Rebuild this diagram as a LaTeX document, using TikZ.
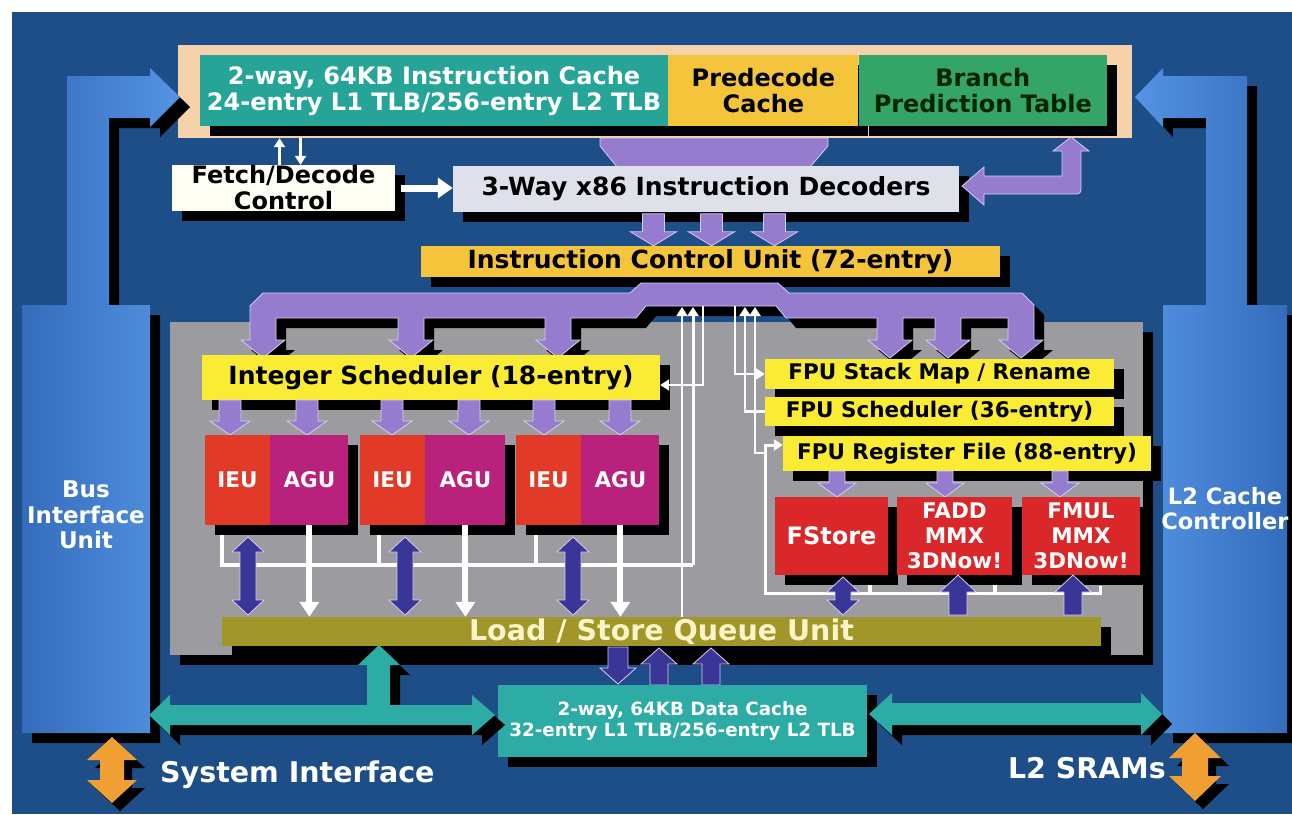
\documentclass[tikz,border=0pt]{standalone}
\usepackage{fontspec}
\setmainfont{DejaVu Sans}
\usetikzlibrary{arrows.meta,shadows}

\definecolor{chipblue}{RGB}{30,78,135}
\definecolor{colblueD}{RGB}{52,108,188}
\definecolor{colblueL}{RGB}{84,148,226}
\definecolor{peach}{RGB}{246,210,170}
\definecolor{icteal}{RGB}{38,164,152}
\definecolor{gold}{RGB}{244,196,58}
\definecolor{bptgreen}{RGB}{52,164,104}
\definecolor{declight}{RGB}{222,224,234}
\definecolor{lilac}{RGB}{150,124,206}
\definecolor{lilacedge}{RGB}{214,204,240}
\definecolor{lemon}{RGB}{250,236,52}
\definecolor{panelgray}{RGB}{156,156,160}
\definecolor{ieured}{RGB}{226,58,40}
\definecolor{agumag}{RGB}{184,34,124}
\definecolor{fpured}{RGB}{218,40,42}
\definecolor{olive}{RGB}{160,150,42}
\definecolor{lsqtext}{RGB}{250,244,200}
\definecolor{indigo}{RGB}{58,54,152}
\definecolor{busteal}{RGB}{44,172,164}
\definecolor{pinorange}{RGB}{240,160,50}

\begin{document}
\begin{tikzpicture}[x=1pt,y=-1pt,
    every node/.style={inner sep=0pt,align=center},
    shadowed/.style={drop shadow={shadow xshift=10pt,shadow yshift=-10pt,opacity=1,fill=black}},
    block/.style={rectangle,shadowed},
    f18/.style={font=\bfseries\fontsize{18.3}{21}\selectfont},
    f21/.style={font=\bfseries\fontsize{21.5}{25}\selectfont},
    f23/.style={font=\bfseries\fontsize{23}{25.5}\selectfont},
    f24/.style={font=\bfseries\fontsize{24}{26}\selectfont},
    f25/.style={font=\bfseries\fontsize{25}{26}\selectfont},
    f28/.style={font=\bfseries\fontsize{28.5}{30}\selectfont},
    lilac arrow/.style={fill=lilac,draw=lilacedge,line width=0.8pt},
    indigo arrow/.style={fill=indigo,draw=lilacedge,line width=0.8pt},
    teal arrow/.style={fill=busteal,shadowed},
    pin arrow/.style={fill=pinorange,drop shadow={shadow xshift=8pt,shadow yshift=-8pt,opacity=1,fill=black}},
    wire/.style={draw=white,line width=2.2pt,-{Triangle[width=11pt,length=9pt]}},
    mid wire/.style={draw=white,line width=7pt,-{Triangle[width=20pt,length=15pt]}},
    fat wire/.style={draw=white,line width=6pt,-{Triangle[width=19pt,length=15pt]}},
    bus line/.style={draw=white,line width=3.5pt}
  ]
  \useasboundingbox (0,0) rectangle (1292,814);
  \fill[chipblue] (12,12) rectangle (1292,814);

  % fetch strip
  \node[fill=peach,minimum width=954pt,minimum height=93pt] (ibox) at (655,91.5) {};
  \node[block,fill=icteal,text=white,f24,minimum width=468pt,minimum height=71pt] (icache) at (434,90.5)
    {2-way, 64KB Instruction Cache\\24-entry L1 TLB/256-entry L2 TLB};
  \node[block,fill=gold,f24,minimum width=190pt,minimum height=71pt,anchor=west] (predec) at (icache.east) {Predecode\\Cache};
  \node[block,fill=bptgreen,text=black!85!green,f24,minimum width=248pt,minimum height=71pt,anchor=west] (bpt) at (predec.east) {Branch\\Prediction Table};

  % bus interface and L2 controller
  \path[shadowed,left color=colblueD,right color=colblueL]
    (22,305) -- (67,305) -- (67,76) -- (150,76) -- (150,68) -- (180,97) -- (150,127) -- (150,118)
    -- (109,118) -- (109,305) -- (150,305) -- (150,733) -- (22,733) -- cycle;
  \path[shadowed,left color=colblueL,right color=colblueD]
    (1163,733) -- (1163,305) -- (1206,305) -- (1206,118) -- (1163,118) -- (1163,127) -- (1135,97)
    -- (1163,68) -- (1163,76) -- (1247,76) -- (1247,305) -- (1287,305) -- (1287,733) -- cycle;
  \node[f23,text=white] (biu) at (86,515) {Bus\\Interface\\Unit};
  \node[font=\bfseries\fontsize{22.5}{25}\selectfont,text=white] (l2cc) at (1225,509) {L2 Cache\\Controller};

  % decode
  \filldraw[lilac arrow] (600,138) -- (828,138) -- (828,146) -- (810,167) -- (617,167) -- (600,146) -- cycle;
  \node[block,fill=white!96!yellow,f24,minimum width=223pt,minimum height=46pt] (fetch) at (283.5,188) {Fetch/Decode\\Control};
  \node[block,fill=declight,f25,minimum width=506pt,minimum height=46pt] (dec) at (706,189) {3-Way x86 Instruction Decoders};
  \draw[wire] ([xshift=-4pt]fetch.north) -- ([xshift=-4pt]fetch.north |- ibox.south);
  \draw[wire] ([xshift=17pt]fetch.north |- ibox.south) -- ([xshift=17pt]fetch.north);
  \draw[mid wire] ([xshift=6pt]fetch.east) -- (fetch.east -| dec.west);
  \filldraw[lilac arrow] (962,186) -- (984,167) -- (984,176) -- (1062,176) -- (1062,151) -- (1053,151) -- (1071,137)
    -- (1089,151) -- (1081,151) -- (1081,185) .. controls (1081,194) .. (1072,194) -- (984,194) -- (984,205) -- cycle;

  % execution core panel
  \fill[panelgray,shadowed] (170,322) rectangle (1143,655);

  \node[block,fill=gold,f25,minimum width=579pt,minimum height=31pt] (icu) at (710.5,261.5) {Instruction Control Unit (72-entry)};
  \foreach \dx in {-57,1,64}
    \filldraw[lilac arrow] ([xshift=\dx pt]icu.north) -- ++(-23,-14) -- ++(12,0) -- ++(0,-18) -- ++(22,0) -- ++(0,18) -- ++(12,0) -- cycle;

  % dispatch bus
  \filldraw[lilac arrow,shadowed]
    (250,340) -- (250,306) -- (263,293) -- (630,293) -- (641,283) -- (778,283) -- (789,293)
    -- (1022,293) -- (1034,305) -- (1034,340) -- (1043,340) -- (1021,358) -- (999,340) -- (1008,340) -- (1008,318)
    -- (961,318) -- (961,340) -- (970,340) -- (948,358) -- (926,340) -- (935,340) -- (935,318)
    -- (903,318) -- (903,340) -- (912,340) -- (890,358) -- (868,340) -- (877,340) -- (877,318)
    -- (786,318) -- (776,306) -- (646,306) -- (636,318)
    -- (571,318) -- (571,340) -- (580,340) -- (558,358) -- (536,340) -- (545,340) -- (545,318)
    -- (424,318) -- (424,340) -- (433,340) -- (411,358) -- (389,340) -- (398,340) -- (398,318)
    -- (276,318) -- (276,340) -- (285,340) -- (263,358) -- (241,340) -- cycle;

  % schedulers
  \node[block,fill=lemon,f25,minimum width=458pt,minimum height=45pt] (sched) at (431,377.5) {Integer Scheduler (18-entry)};
  \node[block,fill=lemon,f21,minimum width=349pt,minimum height=30pt] (fstack) at (939.5,374) {FPU Stack Map / Rename};
  \node[block,fill=lemon,f21,minimum width=349pt,minimum height=29pt] (fsched) at (939.5,411.5) {FPU Scheduler (36-entry)};
  \node[block,fill=lemon,f21,minimum width=368pt,minimum height=35pt] (freg) at (967,453.5) {FPU Register File (88-entry)};

  \foreach \x in {230,307,392,469,544,620}
    \filldraw[lilac arrow] (\x,435) -- ++(-20,-14) -- ++(9,0) -- ++(0,-21) -- ++(22,0) -- ++(0,21) -- ++(9,0) -- cycle;
  \foreach \x in {837,945,1060}
    \filldraw[lilac arrow] (\x,497) -- ++(-19,-14) -- ++(11,0) -- ++(0,-12) -- ++(16,0) -- ++(0,12) -- ++(11,0) -- cycle;

  % execution units
  \foreach \n/\x/\w in {1/237.5/78,2/392.5/80,3/548.5/78} {
    \node[block,fill=ieured,text=white,f21,minimum width=65pt,minimum height=90pt] (ieu\n) at (\x,480) {IEU};
    \node[block,fill=agumag,text=white,f21,minimum width=\w pt,minimum height=90pt,anchor=west] (agu\n) at (ieu\n.east) {AGU};
  }
  \node[block,fill=fpured,text=white,f24,minimum width=113pt,minimum height=78pt] (fstore) at (831.5,536) {FStore};
  \node[block,fill=fpured,text=white,f21,minimum width=115pt,minimum height=78pt] (fadd) at (954.5,536) {FADD\\MMX\\3DNow!};
  \node[block,fill=fpured,text=white,f21,minimum width=118pt,minimum height=78pt] (fmul) at (1081,536) {FMUL\\MMX\\3DNow!};

  \node[block,fill=olive,text=lsqtext,f28,minimum width=879pt,minimum height=29pt] (lsq) at (661.5,631.5) {Load / Store Queue Unit};

  % result and tag lines
  \draw[bus line] (222,535) |- (693,565);
  \foreach \x in {379,536}
    \draw[bus line] (\x,535) -- (\x,565);
  \foreach \u in {agu1,agu2,agu3}
    \draw[fat wire] (\u.south) -- (\u.south |- lsq.north);
  \draw[wire,line width=1.6pt] (682,617) -- (682,307);
  \draw[wire,line width=3pt] (693,565) -- (693,307);
  \draw[wire] (703,306) -- (703,385) -- (sched.east |- 703,385);
  \draw[wire] (735,306) |- (fstack.west);
  \draw[wire] (fsched.west) -| (745,307);
  \draw[wire] (765,453) -| (755,307);
  \draw[wire,line width=3pt] (1100,586) -- (1100,593) -- (765,593) -- (765,445) -- (freg.west |- 765,445);
  \foreach \x in {870,995}
    \draw[bus line] (\x,585) -- (\x,593);

  \foreach \x in {248,405,573}
    \filldraw[indigo arrow] (\x,537) -- ++(16,15) -- ++(-8,0) -- ++(0,48) -- ++(8,0) -- ++(-16,15) -- ++(-16,-15) -- ++(8,0) -- ++(0,-48) -- ++(-8,0) -- cycle;
  \filldraw[indigo arrow] (843,577) -- ++(16,15) -- ++(-8,0) -- ++(0,8) -- ++(8,0) -- ++(-16,15) -- ++(-16,-15) -- ++(8,0) -- ++(0,-8) -- ++(-8,0) -- cycle;
  \foreach \x in {958,1073}
    \filldraw[indigo arrow] (\x,575) -- ++(18,17) -- ++(-9,0) -- ++(0,23) -- ++(-18,0) -- ++(0,-23) -- ++(-9,0) -- cycle;

  % data cache
  \filldraw[indigo arrow] (618,684) -- ++(-18,-16) -- ++(8,0) -- ++(0,-21) -- ++(20,0) -- ++(0,21) -- ++(8,0) -- cycle;
  \foreach \x in {659,711}
    \filldraw[indigo arrow] (\x,648) -- ++(18,16) -- ++(-9,0) -- ++(0,21) -- ++(-18,0) -- ++(0,-21) -- ++(-9,0) -- cycle;
  \node[block,fill=busteal,text=white,f18,minimum width=369pt,minimum height=72pt] (dcache) at (682.5,721)
    {2-way, 64KB Data Cache\\32-entry L1 TLB/256-entry L2 TLB};

  \path[teal arrow] (149,715) -- (170,695) -- (170,705) -- (367,705) -- (367,665) -- (358,665) -- (379,645) -- (400,665)
    -- (390,665) -- (390,705) -- (472,705) -- (472,695) -- (495,715) -- (472,735) -- (472,725) -- (170,725) -- (170,735) -- cycle;
  \path[teal arrow] (869,714) -- (892,693) -- (892,703) -- (1141,703) -- (1141,693) -- (1162,714) -- (1141,735)
    -- (1141,725) -- (892,725) -- (892,735) -- cycle;

  % pins
  \path[pin arrow] (112,737) -- (137,760) -- (124,760) -- (124,780) -- (137,780) -- (112,803) -- (87,780) -- (100,780)
    -- (100,760) -- (87,760) -- cycle;
  \path[pin arrow] (1195,733) -- (1221,758) -- (1208,758) -- (1208,776) -- (1221,776) -- (1195,801) -- (1169,776)
    -- (1182,776) -- (1182,758) -- (1169,758) -- cycle;
  \node[f28,text=white,anchor=base west] (sysif) at (160,782) {System Interface};
  \node[f28,text=white,anchor=base east] (l2sram) at (1166,778) {L2 SRAMs};
\end{tikzpicture}
\end{document}
